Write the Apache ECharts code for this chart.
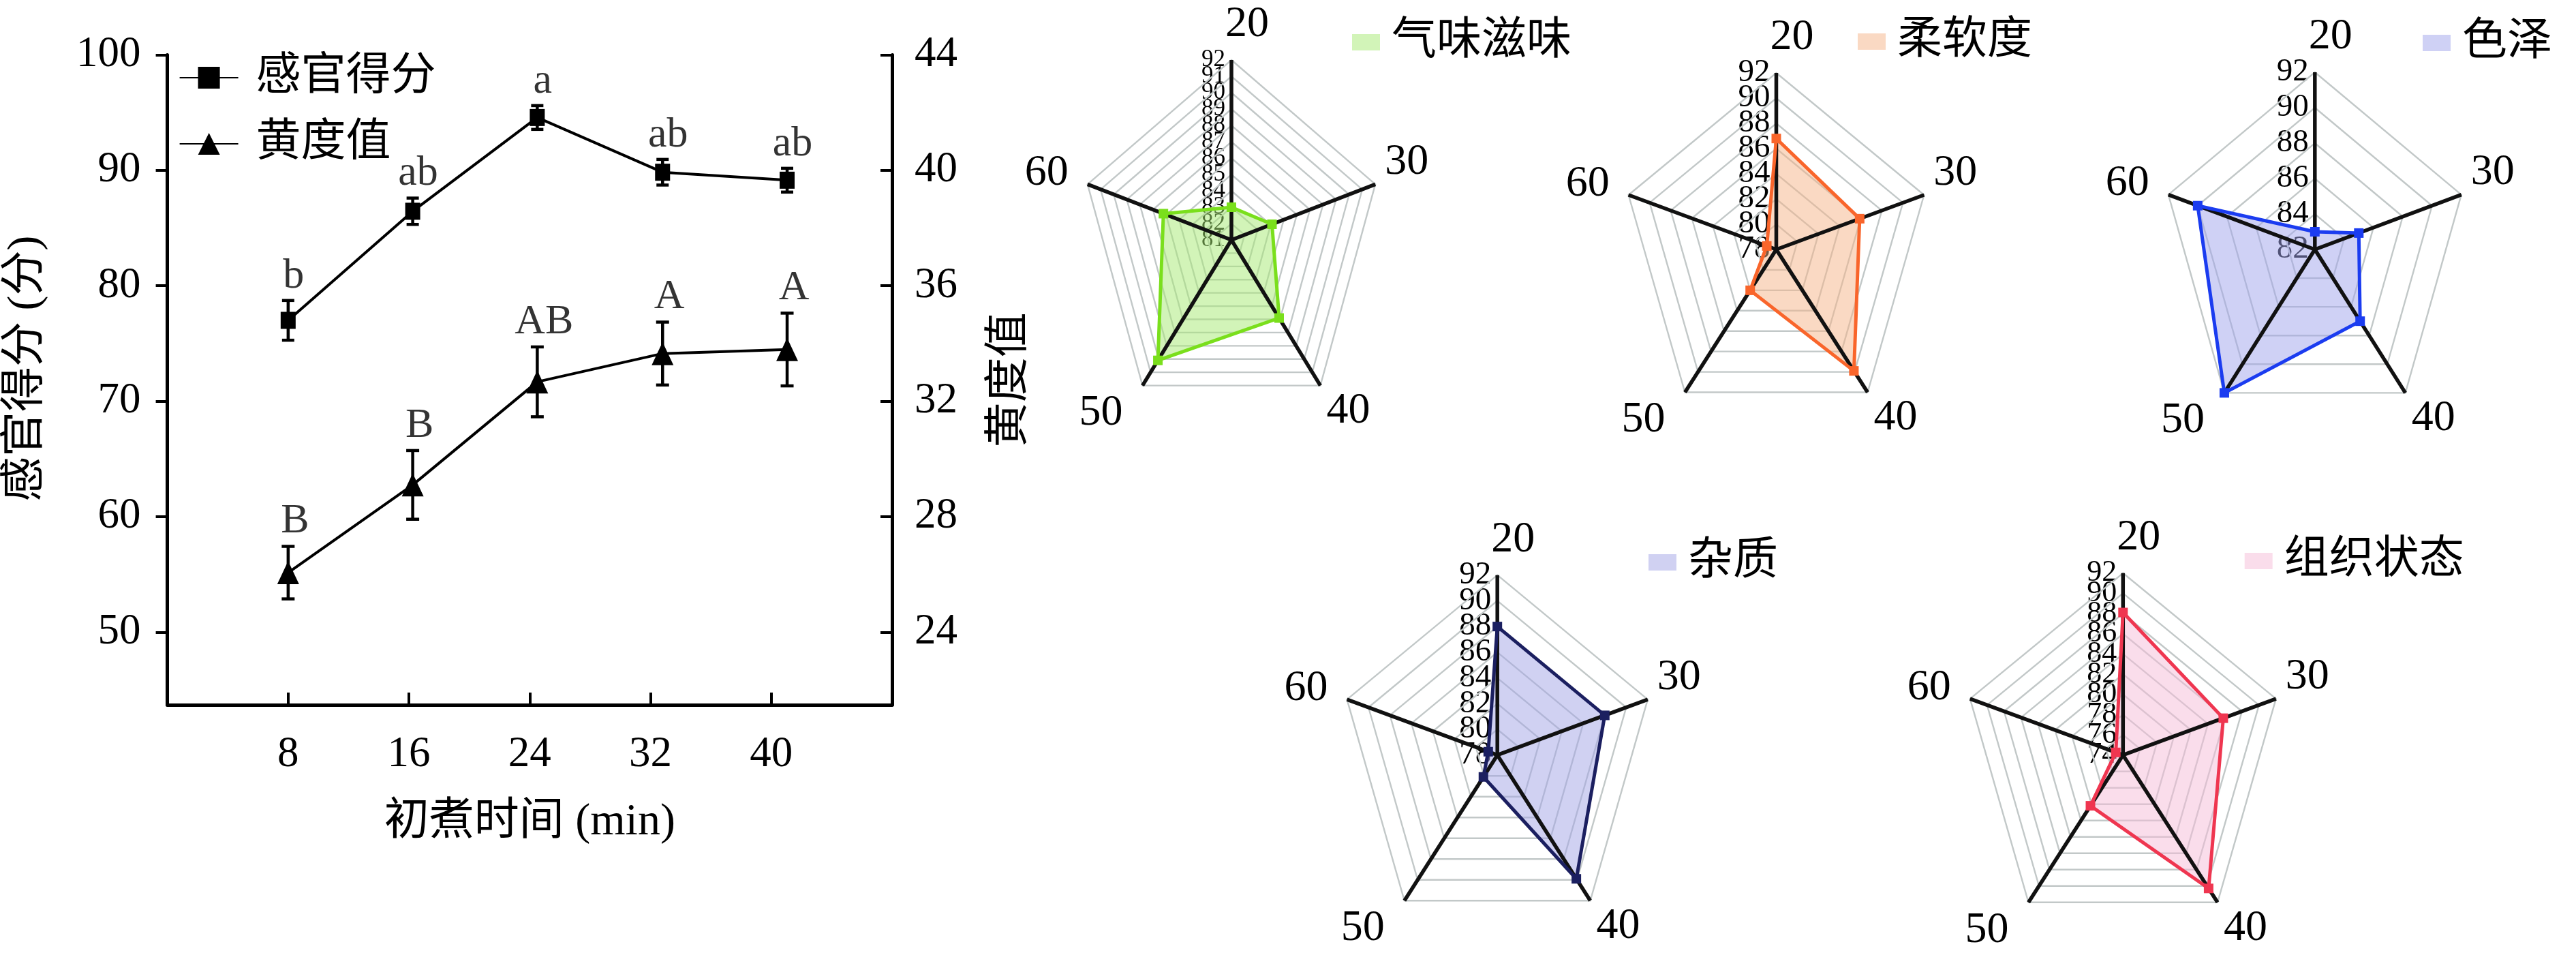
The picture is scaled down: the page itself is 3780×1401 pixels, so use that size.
<!DOCTYPE html>
<html>
<head>
<meta charset="utf-8">
<script src="https://cdn.jsdelivr.net/npm/echarts@6/dist/echarts.min.js"></script>
<style>
html,body{margin:0;padding:0;background:#fff;overflow:hidden}
#c{width:3780px;height:1401px}
</style>
</head>
<body>
<div id="c"></div>
<script>
// ---------------- data ----------------
const times = [8, 16, 24, 32, 40];                 // x tick labels (min)
const timePos = [8, 16.25, 24.5, 32.8, 41.05];      // plotted x positions
const sensory = [77.0, 86.45, 94.57, 89.83, 89.14];
const sensoryErr = [1.72, 1.14, 1.03, 1.11, 1.03];
const sensoryLetters = ['b', 'ab', 'a', 'ab', 'ab'];
const yellowness = [26.06, 29.1, 32.67, 33.65, 33.79];
const yellownessErr = [0.91, 1.19, 1.21, 1.09, 1.26];
const yellownessLetters = ['B', 'B', 'AB', 'A', 'A'];
const leftTicks = [50, 60, 70, 80, 90, 100];
const rightTicks = [24, 28, 32, 36, 40, 44];

const radarAxes = ['20', '30', '40', '50', '60'];
const flavor = [83.0, 84.1, 86.9, 90.1, 86.2];      // 气味滋味
const softness = [86.8, 85.9, 89.9, 82.0, 78.9];    // 柔软度
const colour = [83.0, 85.0, 87.0, 92.0, 90.0];      // 色泽
const impurity = [88.0, 88.0, 89.9, 80.1, 78.85];   // 杂质
const texture = [88.1, 85.8, 90.3, 80.2, 74.85];    // 组织状态

// ---------------- layout / style ----------------
const FONT = "'Liberation Serif', 'Noto Sans CJK SC', serif";
const radars = [
  {name: '气味滋味', values: flavor, min: 81, max: 92, step: 1, cx: 1807, cy: 352, rx: 222, ry: 264,
   line: '#7ADF1C', fill: 'rgba(165,233,113,0.5)', legendFill: 'rgb(210,244,184)', lx: 1984, ly: 29, tickFont: 35},
  {name: '柔软度', values: softness, min: 78, max: 92, step: 2, cx: 2606.5, cy: 366, rx: 228, ry: 259,
   line: '#F9652B', fill: 'rgba(245,179,135,0.5)', legendFill: 'rgb(250,217,195)', lx: 2726, ly: 28, tickFont: 47},
  {name: '色泽', values: colour, min: 82, max: 92, step: 2, cx: 3396.8, cy: 366, rx: 226, ry: 260,
   line: '#1B3CF0', fill: 'rgba(159,163,235,0.5)', legendFill: 'rgb(207,209,245)', lx: 3555, ly: 30, tickFont: 47},
  {name: '杂质', values: impurity, min: 78, max: 92, step: 2, cx: 2197.2, cy: 1107.7, rx: 232, ry: 264,
   line: '#1B1F60', fill: 'rgba(161,163,229,0.5)', legendFill: 'rgb(208,209,242)', lx: 2419, ly: 792, tickFont: 47},
  {name: '组织状态', values: texture, min: 74, max: 92, step: 2, cx: 3115.3, cy: 1107.7, rx: 236, ry: 267,
   line: '#EF3650', fill: 'rgba(245,187,215,0.5)', legendFill: 'rgb(250,221,235)', lx: 3293.7, ly: 790, tickFont: 44}
];
const nameOffset = [[23, -52], [46, -32], [41, 38], [-61, 41], [-60, -16]];

// ---------------- main line chart ----------------
const grids = [{left: 245.6, top: 80.4, width: 1063.4, height: 953.6, outerBoundsMode: 'none', containLabel: false}];
const xAxes = [{
  gridIndex: 0, type: 'value', min: 0, max: 48,
  axisLine: {show: true, onZero: false, lineStyle: {color: '#000', width: 5}},
  axisTick: {show: true, inside: true, length: 18, lineStyle: {color: '#000', width: 4}, customValues: times},
  axisLabel: {show: true, customValues: times, margin: 42, fontSize: 63, fontFamily: FONT, color: '#000'},
  splitLine: {show: false},
  name: '初煮时间 (min)', nameLocation: 'middle', nameGap: 140, nameMoveOverlap: false,
  nameTextStyle: {fontSize: 66, fontFamily: FONT, color: '#000'}
}];
const yAxes = [{
  gridIndex: 0, type: 'value', position: 'left', min: 43.7, max: 100,
  axisLine: {show: true, onZero: false, lineStyle: {color: '#000', width: 5}},
  axisTick: {show: true, inside: false, length: 17, lineStyle: {color: '#000', width: 4}, customValues: leftTicks},
  axisLabel: {show: true, customValues: leftTicks, margin: 39, fontSize: 63, fontFamily: FONT, color: '#000'},
  splitLine: {show: false},
  name: '感官得分 (分)', nameLocation: 'middle', nameGap: 174, nameRotate: 90, nameMoveOverlap: false,
  nameTextStyle: {fontSize: 66, fontFamily: FONT, color: '#000', padding: [0, 0, 0, 33]}
}, {
  gridIndex: 0, type: 'value', position: 'right', min: 21.48, max: 44,
  axisLine: {show: true, onZero: false, lineStyle: {color: '#000', width: 5}},
  axisTick: {show: true, inside: true, length: 17, lineStyle: {color: '#000', width: 4}, customValues: rightTicks},
  axisLabel: {show: true, customValues: rightTicks, margin: 33, fontSize: 63, fontFamily: FONT, color: '#000'},
  splitLine: {show: false},
  name: '黄度值', nameLocation: 'middle', nameGap: 141, nameRotate: 90, nameMoveOverlap: false,
  nameTextStyle: {fontSize: 66, fontFamily: FONT, color: '#000'}
}];

function errRender(halfCap) {
  return function (params, api) {
    const x = api.value(0), lo = api.value(1), hi = api.value(2);
    const pHi = api.coord([x, hi]), pLo = api.coord([x, lo]);
    const st = {stroke: '#000', lineWidth: 4.5};
    return {type: 'group', children: [
      {type: 'line', shape: {x1: pHi[0], y1: pHi[1], x2: pLo[0], y2: pLo[1]}, style: st},
      {type: 'line', shape: {x1: pHi[0] - halfCap, y1: pHi[1], x2: pHi[0] + halfCap, y2: pHi[1]}, style: st},
      {type: 'line', shape: {x1: pLo[0] - halfCap, y1: pLo[1], x2: pLo[0] + halfCap, y2: pLo[1]}, style: st}
    ]};
  };
}

const series = [
  {type: 'custom', name: 'err1', xAxisIndex: 0, yAxisIndex: 0, z: 2, silent: true,
   data: timePos.map((x, i) => [x, sensory[i] - sensoryErr[i], sensory[i] + sensoryErr[i]]),
   encode: {x: 0, y: [1, 2]}, renderItem: errRender(9)},
  {type: 'custom', name: 'err2', xAxisIndex: 0, yAxisIndex: 1, z: 2, silent: true,
   data: timePos.map((x, i) => [x, yellowness[i] - yellownessErr[i], yellowness[i] + yellownessErr[i]]),
   encode: {x: 0, y: [1, 2]}, renderItem: errRender(9.5)},
  {type: 'line', name: '感官得分', xAxisIndex: 0, yAxisIndex: 0, z: 3,
   data: timePos.map((x, i) => [x, sensory[i]]),
   symbol: 'rect', symbolSize: [22, 25], color: '#000',
   itemStyle: {color: '#000'}, lineStyle: {color: '#000', width: 4}},
  {type: 'line', name: '黄度值', xAxisIndex: 0, yAxisIndex: 1, z: 3,
   data: timePos.map((x, i) => [x, yellowness[i]]),
   symbol: 'triangle', symbolSize: [32, 34], color: '#000',
   itemStyle: {color: '#000'}, lineStyle: {color: '#000', width: 4}},
  {type: 'scatter', name: 'letters1', xAxisIndex: 0, yAxisIndex: 0, z: 4, silent: true,
   data: timePos.map((x, i) => [x, sensory[i] + sensoryErr[i]]),
   symbolSize: 1, itemStyle: {color: 'rgba(0,0,0,0)'},
   label: {show: true, position: 'top', distance: 4, offset: [8, 0], fontSize: 62, fontFamily: FONT, color: '#000',
     formatter: p => sensoryLetters[p.dataIndex]}},
  {type: 'scatter', name: 'letters2', xAxisIndex: 0, yAxisIndex: 1, z: 4, silent: true,
   data: timePos.map((x, i) => [x, yellowness[i] + yellownessErr[i]]),
   symbolSize: 1, itemStyle: {color: 'rgba(0,0,0,0)'},
   label: {show: true, position: 'top', distance: 5, offset: [10, 0], fontSize: 62, fontFamily: FONT, color: '#000',
     formatter: p => yellownessLetters[p.dataIndex]}}
];

const legends = [
  {data: ['感官得分'], left: 262.6, top: 81, orient: 'vertical', itemWidth: 86, itemHeight: 40, padding: 0,
   selectedMode: false, textStyle: {fontSize: 66, fontFamily: FONT, color: '#000', padding: [0, 0, 0, 21]}},
  {data: ['黄度值'], left: 262.6, top: 178, orient: 'vertical', itemWidth: 86, itemHeight: 40, padding: 0,
   selectedMode: false, textStyle: {fontSize: 66, fontFamily: FONT, color: '#000', padding: [0, 0, 0, 21]}}
];

// ---------------- radar panels (drawn on their own value axes) ----------------
const ANG = radarAxes.map((_, j) => j * 2 * Math.PI / radarAxes.length);

radars.forEach((r, k) => {
  const gi = k + 1;       // grid / xAxis index
  const yi = k + 2;       // yAxis index (two y axes used by the line chart)
  const span = r.max - r.min;
  const ext = 1 + r.step / span;   // one empty step beyond the outer ring on each side
  grids.push({left: r.cx - r.rx, top: r.cy - r.ry * ext, width: 2 * r.rx, height: 2 * r.ry * ext,
              outerBoundsMode: 'none', containLabel: false});
  xAxes.push({gridIndex: gi, type: 'value', min: -1, max: 1, show: false});
  yAxes.push({
    gridIndex: gi, type: 'value', position: 'left', offset: -r.rx,
    min: 2 * r.min - r.max - r.step, max: r.max + r.step, interval: r.step,
    axisLine: {show: false, onZero: false}, axisTick: {show: false}, splitLine: {show: false},
    axisLabel: {show: true, margin: 9, fontSize: r.tickFont, fontFamily: FONT, color: '#000', lineHeight: 12,
      hideOverlap: false,
      formatter: v => (v >= r.min - 1e-6 && v <= r.max + 1e-6 ? String(Math.round(v)) : '')}
  });
  const toXY = (v, j) => [(v - r.min) / span * Math.sin(ANG[j]), r.min + (v - r.min) * Math.cos(ANG[j])];

  const ringVals = [];
  for (let t = r.min + r.step; t <= r.max + 1e-9; t += r.step) ringVals.push([0, t]);

  series.push({
    type: 'custom', name: 'rings' + k, xAxisIndex: gi, yAxisIndex: yi, z: 1, silent: true,
    data: ringVals,
    renderItem: (p, api) => {
      const t = api.value(1);
      const pts = ANG.map((_, j) => api.coord(toXY(t, j)));
      return {type: 'polygon', shape: {points: pts}, style: {fill: 'none', stroke: '#C2C8C8', lineWidth: 2.4}};
    }
  });
  series.push({
    type: 'custom', name: r.name, xAxisIndex: gi, yAxisIndex: yi, z: 2, silent: true,
    data: [r.values], color: r.legendFill,
    renderItem: (p, api) => {
      const pts = ANG.map((_, j) => api.coord(toXY(api.value(j), j)));
      return {type: 'polygon', shape: {points: pts}, style: {fill: r.fill, stroke: 'none'}};
    }
  });
  series.push({
    type: 'custom', name: 'spokes' + k, xAxisIndex: gi, yAxisIndex: yi, z: 3, silent: true,
    data: radarAxes.map((_, j) => [0, r.max]),
    renderItem: (p, api) => {
      const j = p.dataIndex;
      const c = api.coord([0, r.min]);
      const e = api.coord(toXY(r.max, j));
      return {type: 'group', children: [
        {type: 'line', shape: {x1: c[0], y1: c[1], x2: e[0], y2: e[1]}, style: {stroke: '#111', lineWidth: 5.5}},
        {type: 'text', x: e[0] + nameOffset[j][0], y: e[1] + nameOffset[j][1],
         style: {text: radarAxes[j], fontSize: 64, fontFamily: FONT, fill: '#000', align: 'center', verticalAlign: 'middle'}}
      ]};
    }
  });
  series.push({
    type: 'custom', name: 'outline' + k, xAxisIndex: gi, yAxisIndex: yi, z: 4, silent: true,
    data: [r.values],
    renderItem: (p, api) => {
      const pts = ANG.map((_, j) => api.coord(toXY(api.value(j), j)));
      const children = [{type: 'polygon', shape: {points: pts},
        style: {fill: 'none', stroke: r.line, lineWidth: 5, lineJoin: 'miter'}}];
      pts.forEach(pt => children.push({type: 'rect', shape: {x: pt[0] - 7, y: pt[1] - 7, width: 14, height: 14},
        style: {fill: r.line}}));
      return {type: 'group', children};
    }
  });
  legends.push({
    data: [{name: r.name, icon: 'rect', itemStyle: {color: r.legendFill, borderWidth: 0}}],
    left: r.lx, top: r.ly, itemWidth: 41, itemHeight: 24, padding: 0, selectedMode: false,
    textStyle: {fontSize: 66, fontFamily: FONT, color: '#000', padding: [0, 0, 0, 12]}
  });
});

const chart = echarts.init(document.getElementById('c'), null, {renderer: 'canvas', width: 3780, height: 1401});
chart.setOption({
  backgroundColor: '#fff',
  animation: false,
  tooltip: {show: false},
  grid: grids,
  xAxis: xAxes,
  yAxis: yAxes,
  legend: legends,
  series: series
});
</script>
</body>
</html>
